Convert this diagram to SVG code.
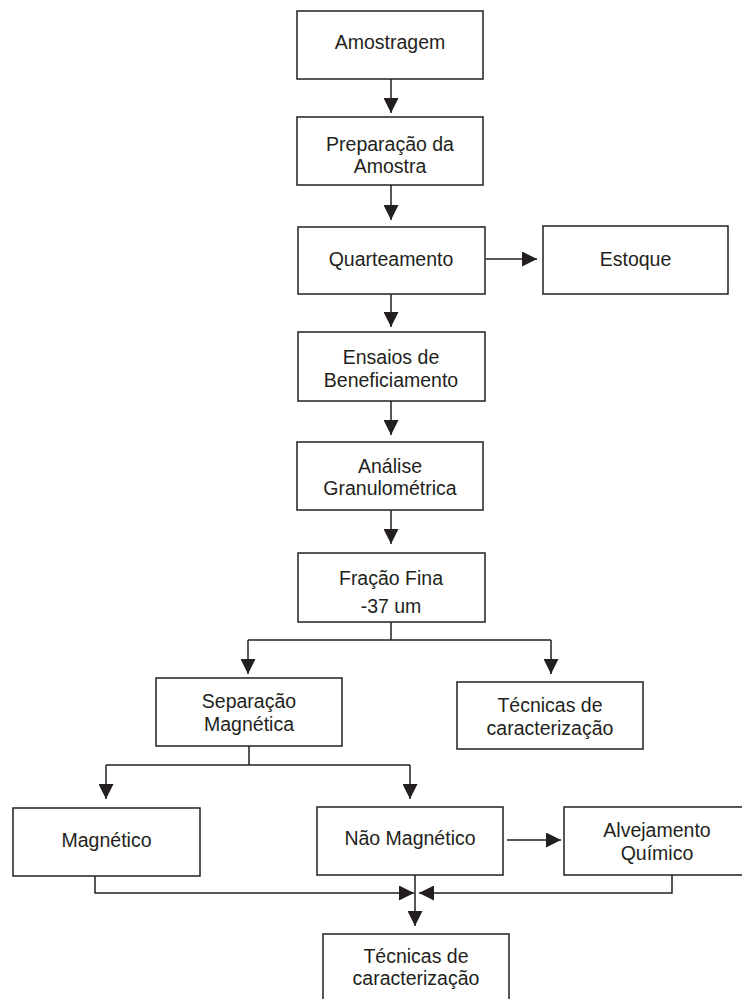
<svg xmlns="http://www.w3.org/2000/svg" width="742" height="999" viewBox="0 0 742 999">
<defs>
<style>
.box{fill:#fff;stroke:#231f20;stroke-width:1.5}
.t{font-family:"Liberation Sans",Arial,sans-serif;font-size:19.5px;fill:#231f20;text-anchor:middle}
.c{fill:none;stroke:#231f20;stroke-width:1.5}
</style>
<marker id="ah" markerUnits="userSpaceOnUse" markerWidth="15" markerHeight="15" refX="15" refY="7.5" orient="auto" viewBox="0 0 15 15">
<path d="M0,0 L15,7.5 L0,15 Z" fill="#231f20"/>
</marker>
</defs>
<rect width="742" height="999" fill="#fff"/>
<g id="connectors">
<path class="c" d="M391,79 V113" marker-end="url(#ah)"/>
<path class="c" d="M391,185 V220" marker-end="url(#ah)"/>
<path class="c" d="M486,259 H537" marker-end="url(#ah)"/>
<path class="c" d="M391,294 V327" marker-end="url(#ah)"/>
<path class="c" d="M391,401 V435" marker-end="url(#ah)"/>
<path class="c" d="M391,510 V544" marker-end="url(#ah)"/>
<path class="c" d="M391,622 V640"/>
<path class="c" d="M248,640 H551"/>
<path class="c" d="M248,640 V674" marker-end="url(#ah)"/>
<path class="c" d="M551,640 V674" marker-end="url(#ah)"/>
<path class="c" d="M249,746 V765"/>
<path class="c" d="M106,765 H410"/>
<path class="c" d="M106,765 V799" marker-end="url(#ah)"/>
<path class="c" d="M410,765 V799" marker-end="url(#ah)"/>
<path class="c" d="M507,840 H561" marker-end="url(#ah)"/>
<path class="c" d="M95,876 V893 H414" marker-end="url(#ah)"/>
<path class="c" d="M672,875 V893 H419" marker-end="url(#ah)"/>
<path class="c" d="M415,875 V926" marker-end="url(#ah)"/>
</g>
<g id="amostragem"><rect class="box" x="297" y="11" width="186" height="68"/><text class="t" x="390" y="49">Amostragem</text></g>
<g id="preparacao"><rect class="box" x="297" y="117" width="186" height="68"/><text class="t" x="390" y="151">Preparação da</text><text class="t" x="390" y="173">Amostra</text></g>
<g id="quarteamento"><rect class="box" x="298" y="227" width="187" height="67"/><text class="t" x="391" y="266">Quarteamento</text></g>
<g id="estoque"><rect class="box" x="543" y="226" width="185" height="68"/><text class="t" x="635.5" y="266">Estoque</text></g>
<g id="ensaios"><rect class="box" x="298" y="332" width="187" height="69"/><text class="t" x="391" y="364">Ensaios de</text><text class="t" x="391" y="387">Beneficiamento</text></g>
<g id="analise"><rect class="box" x="297" y="442" width="186" height="68"/><text class="t" x="390" y="473">Análise</text><text class="t" x="390" y="495">Granulométrica</text></g>
<g id="fracao"><rect class="box" x="298" y="553" width="187" height="69"/><text class="t" x="391" y="585">Fração Fina</text><text class="t" x="391" y="613">-37 um</text></g>
<g id="separacao"><rect class="box" x="156" y="678" width="186" height="68"/><text class="t" x="249" y="708">Separação</text><text class="t" x="249" y="731">Magnética</text></g>
<g id="tecnicas1"><rect class="box" x="457" y="682" width="186" height="67"/><text class="t" x="550" y="712">Técnicas de</text><text class="t" x="550" y="735">caracterização</text></g>
<g id="magnetico"><rect class="box" x="13" y="808" width="187" height="68"/><text class="t" x="106.5" y="847">Magnético</text></g>
<g id="naomagnetico"><rect class="box" x="317" y="807" width="186" height="68"/><text class="t" x="410" y="845">Não Magnético</text></g>
<g id="alvejamento"><rect class="box" x="564" y="807" width="186" height="68"/><text class="t" x="657" y="837">Alvejamento</text><text class="t" x="657" y="860">Químico</text></g>
<g id="tecnicas2"><rect class="box" x="323" y="934" width="186" height="75"/><text class="t" x="416" y="963">Técnicas de</text><text class="t" x="416" y="985">caracterização</text></g>
</svg>
